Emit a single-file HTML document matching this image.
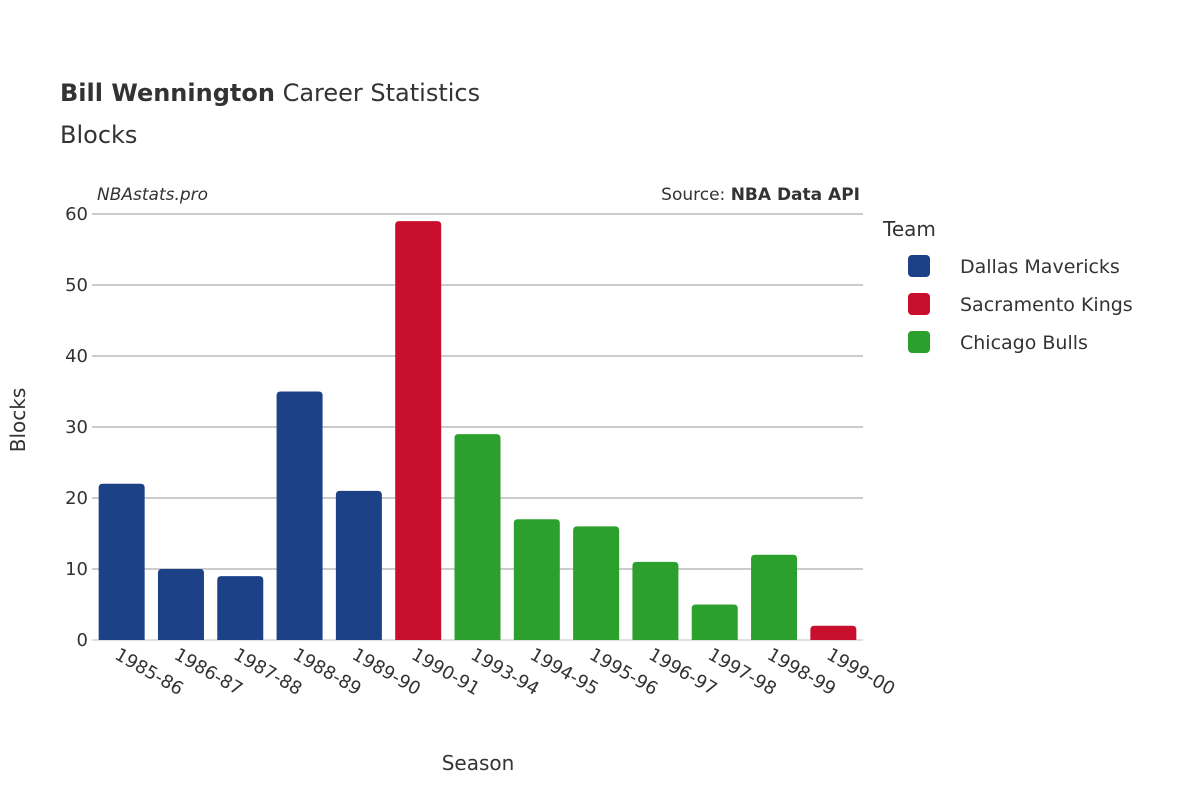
<!DOCTYPE html>
<html><head><meta charset="utf-8"><style>
body{margin:0;background:#fff}
svg text{font-family:"DejaVu Sans","Liberation Sans",sans-serif;fill:#333}
</style></head><body>
<svg width="1200" height="800">
<text x="60" y="101" font-size="24"><tspan font-weight="bold">Bill Wennington</tspan> Career Statistics</text>
<text x="60" y="143" font-size="24">Blocks</text>
<text x="97" y="200" font-size="17" font-style="italic">NBAstats.pro</text>
<text x="860" y="200" font-size="17" text-anchor="end">Source: <tspan font-weight="bold">NBA Data API</tspan></text>
<g id="grid"></g><g id="bars"></g><g id="xt"></g><g id="yt"></g>
<text x="478" y="770" font-size="20" text-anchor="middle">Season</text>
<text transform="translate(25,420) rotate(-90)" font-size="20" text-anchor="middle">Blocks</text>
<g>
<text x="883" y="236" font-size="20">Team</text>
<g id="leg"></g>
</g>
</svg>
<script>
const seasons=["1985-86","1986-87","1987-88","1988-89","1989-90","1990-91","1993-94","1994-95","1995-96","1996-97","1997-98","1998-99","1999-00"];
const blocks=[22,10,9,35,21,59,29,17,16,11,5,12,2];
const teams=["DAL","DAL","DAL","DAL","DAL","SAC","CHI","CHI","CHI","CHI","CHI","CHI","SAC"];
const teamNames=["Dallas Mavericks","Sacramento Kings","Chicago Bulls"];
const teamKeys=["DAL","SAC","CHI"];
const yTicks=[0,10,20,30,40,50,60];
const colors={DAL:"#1c4187",SAC:"#c8102e",CHI:"#2ca02c"};
const NS="http://www.w3.org/2000/svg";
const x0=92,x1=863,y0=640,yTop=214,yMax=60;
const band=(x1-x0)/seasons.length;
const yS=v=>y0-(v/yMax)*(y0-yTop);
const xC=i=>x0+band*(i+0.5);
function mk(t,a,p){const e=document.createElementNS(NS,t);for(const k in a)e.setAttribute(k,a[k]);p.appendChild(e);return e;}
const grid=document.getElementById('grid'),yt=document.getElementById('yt');
yTicks.forEach(v=>{
 const l=mk('line',{x1:x0,x2:x1,y1:yS(v),y2:yS(v),stroke:v===0?'#e0e0e0':'#999','stroke-width':v===0?2:1},grid);
 
 
 const t=mk('text',{x:88,y:yS(v)+6,'font-size':18,'text-anchor':'end'},yt);t.textContent=v;
 
 
});
const bars=document.getElementById('bars'),xt=document.getElementById('xt');
const bw=46,r=4;
seasons.forEach((s,i)=>{
 const cx=xC(i),top=yS(blocks[i]),h=y0-top,L=cx-bw/2,R=cx+bw/2,rr=Math.min(r,h);
 const p=mk('path',{d:`M${L},${y0}V${top+rr}Q${L},${top} ${L+rr},${top}H${R-rr}Q${R},${top} ${R},${top+rr}V${y0}Z`,fill:colors[teams[i]]},bars);
 
 
 const t=mk('text',{transform:`translate(${cx-8},${658}) rotate(30)`,'font-size':18},xt);t.textContent=s;
 
 
});
const leg=document.getElementById('leg');
teamNames.forEach((n,i)=>{
 const y=266+i*38;
 const g=mk('g',{},leg);
 
 
 mk('rect',{x:908,y:y-11,width:22,height:22,rx:4,fill:colors[teamKeys[i]]},g);
 const t=mk('text',{x:960,y:y+7,'font-size':19},g);t.textContent=n;
});
</script>
</body></html>
